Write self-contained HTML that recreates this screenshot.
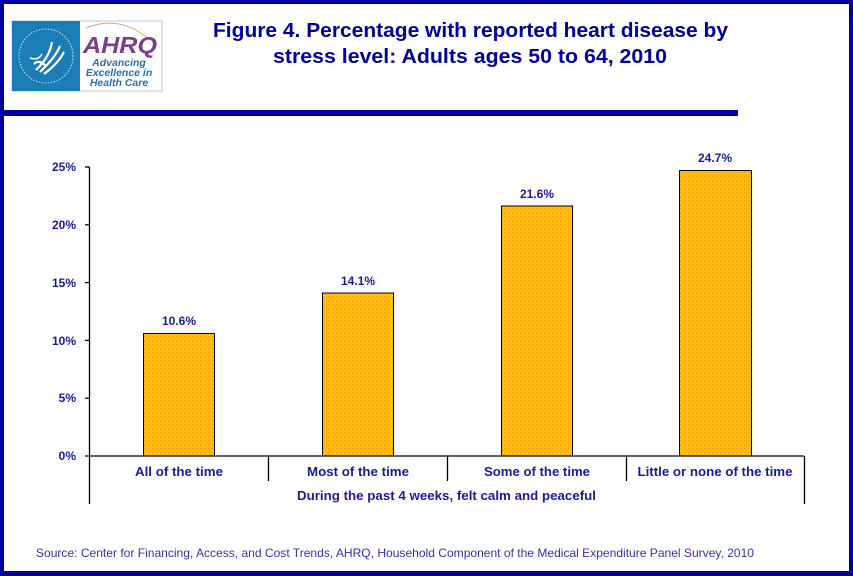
<!DOCTYPE html>
<html><head><meta charset="utf-8"><style>
html,body{margin:0;padding:0;background:#fff;}
svg{display:block;}
</style></head><body>
<svg width="853" height="576" viewBox="0 0 853 576" xmlns="http://www.w3.org/2000/svg">
<defs>
<pattern id="dots" width="4" height="4" patternUnits="userSpaceOnUse">
<rect width="4" height="4" fill="#FFC400"/>
<rect x="0" y="0" width="1" height="1" fill="#F08A10"/>
<rect x="2" y="2" width="1" height="1" fill="#F5A000"/>
</pattern>
</defs>
<rect x="0" y="0" width="853" height="576" fill="#0000A0"/>
<rect x="4" y="4" width="845" height="567" fill="#fff"/>
<!-- separator -->
<rect x="0" y="110" width="738" height="6" fill="#0000A0"/>
<!-- logo -->
<rect x="12" y="21" width="150" height="70" fill="#fff" stroke="#b8c8d8" stroke-width="1"/>
<rect x="12" y="21" width="68" height="70" fill="#1B7DB5"/>
<circle cx="46" cy="56" r="27" fill="none" stroke="#cfe6f4" stroke-width="1" stroke-dasharray="1.5 1.5"/>
<path d="M36 70 C44 62 50 54 52 42 M40 72 C48 64 56 56 60 46 M44 74 C52 68 60 60 64 52 M34 64 C38 60 42 62 46 66" fill="none" stroke="#fff" stroke-width="2.2"/>
<path d="M30 58 C36 60 40 58 42 54" fill="none" stroke="#fff" stroke-width="1.5"/>
<path d="M86 28 Q120 14 150 40" fill="none" stroke="#e0a070" stroke-width="1"/>
<text x="120" y="53" font-family="Liberation Sans, sans-serif" font-weight="bold" font-style="italic" font-size="23" fill="#7B3F8C" text-anchor="middle" textLength="74" lengthAdjust="spacingAndGlyphs">AHRQ</text>
<g font-family="Liberation Sans, sans-serif" font-weight="bold" font-style="italic" font-size="10.5" fill="#2a6fa8" text-anchor="middle">
<text x="119" y="66">Advancing</text>
<text x="119" y="76">Excellence in</text>
<text x="119" y="86">Health Care</text>
</g>
<!-- title -->
<g font-family="Liberation Sans, sans-serif" font-weight="bold" font-size="20" fill="#00009C" text-anchor="middle">
<text x="470.5" y="37" textLength="515" lengthAdjust="spacingAndGlyphs">Figure 4. Percentage with  reported heart disease by</text>
<text x="470" y="63" textLength="394" lengthAdjust="spacingAndGlyphs">stress level: Adults  ages 50 to 64, 2010</text>
</g>
<!-- bars -->
<g stroke="#000" stroke-width="1">
<rect x="143.5" y="333.5" width="71" height="122.5" fill="url(#dots)"/>
<rect x="322.5" y="293" width="71" height="163" fill="url(#dots)"/>
<rect x="501.5" y="206" width="71" height="250" fill="url(#dots)"/>
<rect x="679.5" y="170.5" width="72" height="285.5" fill="url(#dots)"/>
</g>
<!-- axes -->
<g stroke="#000" stroke-width="1.3" fill="none">
<line x1="89.5" y1="167" x2="89.5" y2="504"/>
<line x1="85" y1="167" x2="89.5" y2="167"/>
<line x1="85" y1="224.8" x2="89.5" y2="224.8"/>
<line x1="85" y1="282.6" x2="89.5" y2="282.6"/>
<line x1="85" y1="340.4" x2="89.5" y2="340.4"/>
<line x1="85" y1="398.2" x2="89.5" y2="398.2"/>
<line x1="85" y1="456" x2="804" y2="456"/>
<line x1="268.5" y1="456" x2="268.5" y2="481"/>
<line x1="447.5" y1="456" x2="447.5" y2="481"/>
<line x1="626.5" y1="456" x2="626.5" y2="481"/>
<line x1="804.5" y1="456" x2="804.5" y2="504"/>
</g>
<g font-family="Liberation Sans, sans-serif" font-weight="bold" font-size="12" fill="#1A1A9C">
<g text-anchor="end">
<text x="76" y="171">25%</text>
<text x="76" y="229">20%</text>
<text x="76" y="287">15%</text>
<text x="76" y="345">10%</text>
<text x="76" y="402">5%</text>
<text x="76" y="460">0%</text>
</g>
<g text-anchor="middle">
<text x="179" y="325">10.6%</text>
<text x="358" y="285">14.1%</text>
<text x="537" y="198">21.6%</text>
<text x="715" y="162">24.7%</text>
</g>
<g text-anchor="middle" font-size="13">
<text x="179" y="476" textLength="88" lengthAdjust="spacingAndGlyphs">All of the time</text>
<text x="358" y="476" textLength="102" lengthAdjust="spacingAndGlyphs">Most of the time</text>
<text x="537" y="476" textLength="106" lengthAdjust="spacingAndGlyphs">Some of the time</text>
<text x="715" y="476" textLength="155" lengthAdjust="spacingAndGlyphs">Little or none of the time</text>
<text x="446.5" y="500" textLength="299" lengthAdjust="spacingAndGlyphs">During the past 4 weeks, felt calm and peaceful</text>
</g>
</g>
<text x="36" y="557" font-family="Liberation Sans, sans-serif" font-size="12" fill="#3333AA" textLength="718" lengthAdjust="spacingAndGlyphs">Source: Center for Financing, Access, and Cost Trends, AHRQ, Household Component of the Medical Expenditure Panel Survey,  2010</text>
</svg>
</body></html>
